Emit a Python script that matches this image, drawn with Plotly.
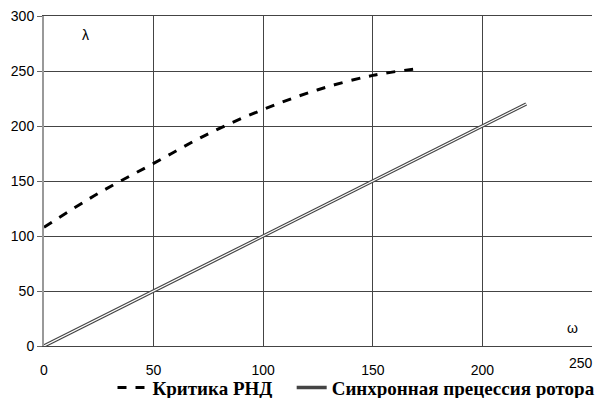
import plotly.graph_objects as go

# Critical curve (РНД)
crit_omega = [0, 25, 50, 75, 100, 125, 150, 170]
crit_lambda = [108, 139, 166, 193, 215, 233, 246, 252]
# Synchronous precession line
sync_omega = [0, 220]
sync_lambda = [0, 220]

x_ticks = [0, 50, 100, 150, 200]
y_ticks = [0, 50, 100, 150, 200, 250, 300]

fig = go.Figure()
fig.add_trace(go.Scatter(x=crit_omega, y=crit_lambda, mode="lines",
                         line=dict(color="black", width=3, dash="dash", shape="spline"),
                         name="Критика РНД\u00a0\u00a0\u00a0"))
fig.add_trace(go.Scatter(x=sync_omega, y=sync_lambda, mode="lines",
                         line=dict(color="#444444", width=3.5),
                         name="Синхронная прецессия ротора"))
fig.add_trace(go.Scatter(x=sync_omega, y=sync_lambda, mode="lines",
                         line=dict(color="white", width=1.2),
                         showlegend=False, hoverinfo="skip"))

fig.add_annotation(x=19, y=283, text="λ", showarrow=False,
                   font=dict(family="Liberation Sans", size=14, color="black"))
fig.add_annotation(x=241, y=16, text="ω", showarrow=False,
                   font=dict(family="Liberation Sans", size=14, color="black"))
fig.add_annotation(x=250, y=0, yref="paper", text="250", showarrow=False,
                   xanchor="right", yanchor="top", yshift=-7, xshift=3,
                   font=dict(family="Liberation Sans", size=14, color="black"))

fig.update_layout(
    width=595, height=390,
    margin=dict(l=36, r=11, t=8, b=52, autoexpand=False),
    paper_bgcolor="white", plot_bgcolor="white",
    showlegend=True,
    legend=dict(orientation="h", x=0.125, y=-0.069, xanchor="left", yanchor="top",
                font=dict(family="Liberation Serif", size=19, color="black", weight="bold"),
                bgcolor="rgba(0,0,0,0)", itemwidth=30, tracegroupgap=0),
    font=dict(family="Liberation Sans", size=14, color="black"),
)
fig.update_xaxes(range=[0, 250], tickvals=x_ticks, showgrid=True, gridcolor="#444444",
                 gridwidth=1, showline=True, linecolor="#444444", linewidth=1,
                 mirror=True, ticks="", zeroline=False, fixedrange=True,
                 automargin=False, ticklabelstandoff=11, ticklabeloverflow="allow")
fig.update_yaxes(range=[0, 300], tickvals=y_ticks, showgrid=True, gridcolor="#444444",
                 gridwidth=1, showline=True, linecolor="#999999", linewidth=2,
                 ticks="outside", ticklen=5, tickcolor="#666666",
                 zeroline=False, fixedrange=True, automargin=False,
                 ticklabeloverflow="allow")

fig.write_html("out.html")
